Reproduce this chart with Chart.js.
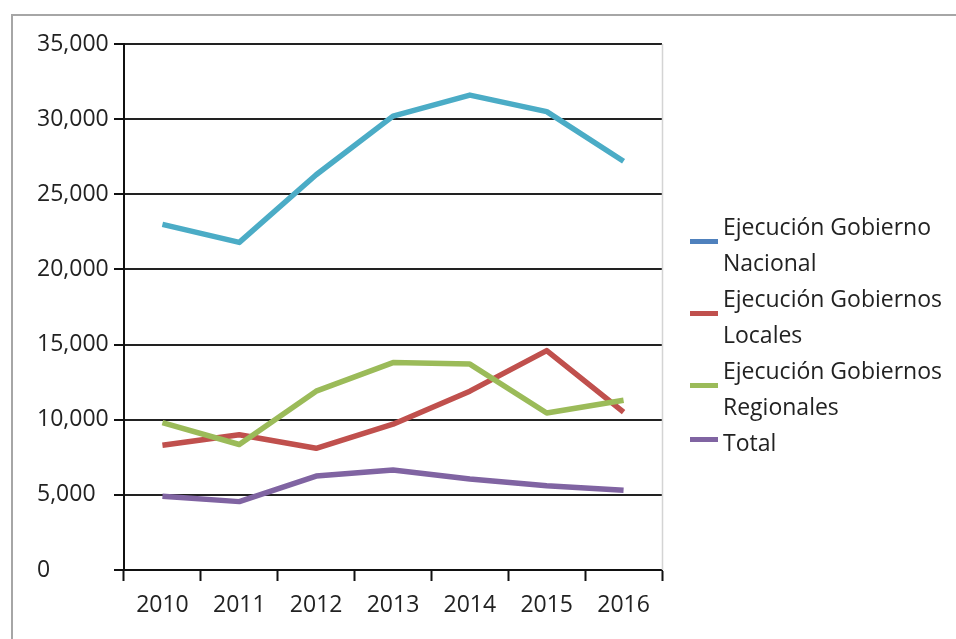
<!DOCTYPE html>
<html>
<head>
<meta charset="utf-8">
<script src="https://cdn.jsdelivr.net/npm/chart.js@4.4.1/dist/chart.umd.min.js"></script>
<style>
    html, body { margin: 0; padding: 0; background: #fff; }
    body { width: 956px; height: 639px; position: relative; overflow: hidden; font-family: "Open Sans", sans-serif; }
    #frame { position: absolute; left: 11px; top: 14px; right: 0; bottom: 0; border-left: 2px solid #a6a6a6; border-top: 2px solid #a6a6a6; }
    #wrap { position: absolute; left: 0; top: 0; width: 956px; height: 639px; }
    #legend { position: absolute; left: 690px; top: 208px; width: 266px; color: #222; font-size: 23px; line-height: 36px; }
    .item { position: relative; padding-left: 33px; width: 233px; }
    .swatch { position: absolute; left: 0; width: 28px; height: 5px; }
</style>
</head>
<body>
<div id="frame"></div>
<div id="wrap"><canvas id="lineChart" width="956" height="639"></canvas></div>
<div id="legend"></div>
<script>
const years = ['2010', '2011', '2012', '2013', '2014', '2015', '2016'];
const seriesNames = [
    'Ejecución Gobierno Nacional',
    'Ejecución Gobiernos Locales',
    'Ejecución Gobiernos Regionales',
    'Total'
];
const nacional = [23000, 21800, 26300, 30200, 31600, 30500, 27200];
const locales = [8300, 9000, 8100, 9700, 11900, 14600, 10500];
const regionales = [9800, 8350, 11900, 13800, 13700, 10450, 11300];
const total = [4900, 4550, 6250, 6650, 6050, 5600, 5300];
const yMax = 35000;
const yStep = 5000;

// line colours, and the (slightly different) swatch colours shown in the legend
const lineColors = ['#4bacc6', '#c0504d', '#9bbb59', '#8064a2'];
const swatchColors = ['#4f81bd', '#c0504d', '#9bbb59', '#8064a2'];

const rightEdge = {
    id: 'rightEdge',
    afterDraw(chart) {
        const { ctx, chartArea } = chart;
        ctx.save();
        ctx.strokeStyle = '#d4d4d4';
        ctx.lineWidth = 1.5;
        ctx.beginPath();
        ctx.moveTo(chartArea.right + 0.5, chartArea.top);
        ctx.lineTo(chartArea.right + 0.5, chartArea.bottom);
        ctx.stroke();
        ctx.restore();
    }
};

const values = [nacional, locales, regionales, total];
const ctx = document.getElementById('lineChart').getContext('2d');
const chart = new Chart(ctx, {
    type: 'line',
    data: {
        labels: years,
        datasets: values.map((v, i) => ({
            label: seriesNames[i],
            data: v,
            borderColor: lineColors[i],
            backgroundColor: lineColors[i],
            borderWidth: 5.5,
            pointRadius: 0,
            tension: 0,
            borderJoinStyle: 'round',
            order: 4 - i
        }))
    },
    options: {
        responsive: false,
        animation: false,
        layout: {
            padding: { left: 37, top: 44, right: 294, bottom: 0 }
        },
        plugins: {
            legend: { display: false },
            tooltip: { enabled: false }
        },
        scales: {
            x: {
                offset: true,
                afterFit: (scale) => { scale.height = 69; },
                grid: {
                    offset: true,
                    drawOnChartArea: false,
                    drawTicks: true,
                    tickLength: 11,
                    tickColor: '#111',
                    tickWidth: 2
                },
                border: { color: '#111', width: 2 },
                ticks: {
                    color: '#222',
                    padding: 11,
                    maxRotation: 0,
                    font: { family: 'Open Sans', size: 23 }
                }
            },
            y: {
                min: 0,
                max: yMax,
                afterFit: (scale) => { scale.width = 87; },
                grid: {
                    color: '#222',
                    lineWidth: 2,
                    tickLength: 10,
                    tickColor: '#111'
                },
                border: { color: '#111', width: 2 },
                ticks: {
                    stepSize: yStep,
                    color: '#222',
                    padding: 5,
                    crossAlign: 'far',
                    font: { family: 'Open Sans', size: 23 },
                    callback: function(value) {
                        return value.toLocaleString('en-US');
                    }
                }
            }
        }
    },
    plugins: [rightEdge]
});

// legend with wrapping text, built from the datasets
const legendBox = document.getElementById('legend');
chart.data.datasets.forEach((ds, i) => {
    const item = document.createElement('div');
    item.className = 'item';
    const sw = document.createElement('span');
    sw.className = 'swatch';
    sw.style.background = swatchColors[i];
    const text = document.createElement('span');
    text.textContent = ds.label;
    item.appendChild(sw);
    item.appendChild(text);
    legendBox.appendChild(item);
    const h = item.getBoundingClientRect().height;
    sw.style.top = (h / 2 - 5) + 'px';
});
</script>
</body>
</html>
